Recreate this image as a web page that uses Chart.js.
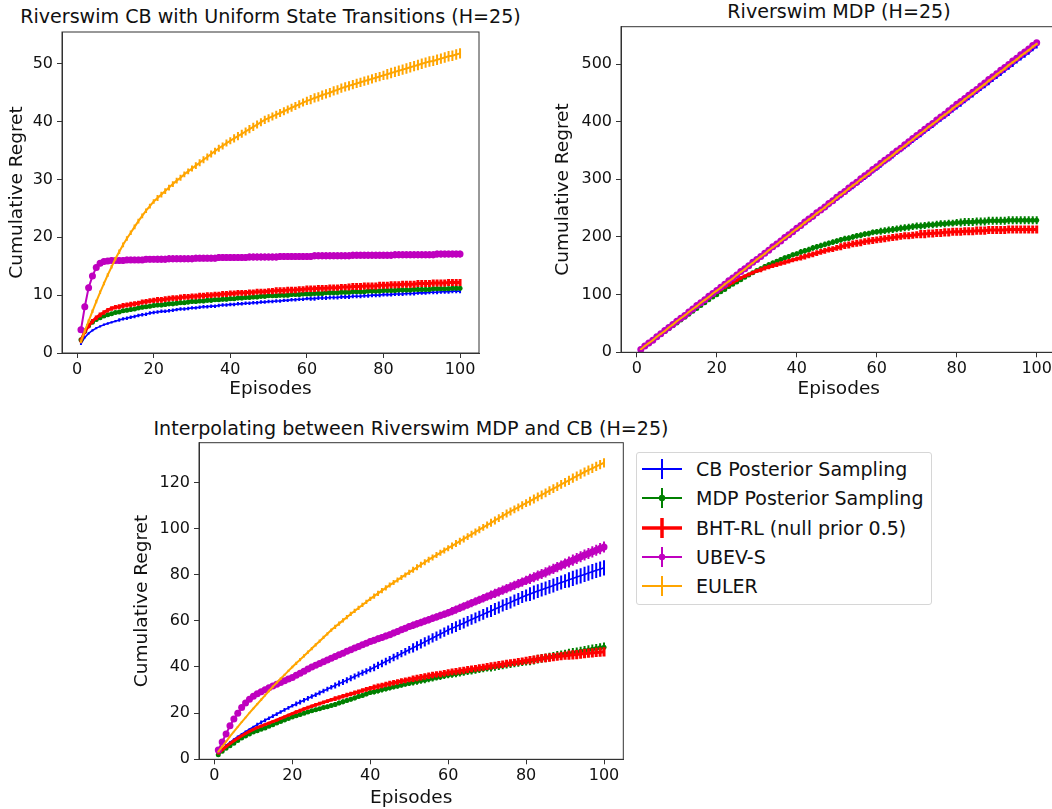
<!DOCTYPE html>
<html>
<head>
<meta charset="utf-8">
<script src="https://cdn.jsdelivr.net/npm/chart.js@4.4.1/dist/chart.umd.min.js"></script>
<style>
body { margin: 0; background: #fff; }
#fig { position: relative; width: 1052px; height: 809px; overflow: hidden; background: #fff;
       font-family: "DejaVu Sans", sans-serif; color: #111; }
canvas { position: absolute; }
.title { position: absolute; width: 600px; text-align: center; font-size: 19.1px; line-height: 19px; white-space: nowrap; }
#legend { position: absolute; left: 636px; top: 452px; width: 296px; height: 153px;
          border: 1px solid #d6d6d6; border-radius: 3px; box-sizing: border-box; background: #fff; }
.row { position: absolute; left: 0; height: 24px; width: 290px; font-size: 19px; line-height: 24px; white-space: nowrap; }
.row svg { position: absolute; left: 5px; top: 0; }
.row span { position: absolute; left: 59px; top: 0; }
</style>
</head>
<body>
<div id="fig">
  <div class="title" style="left:-29.5px;top:7px">Riverswim CB with Uniform State Transitions (H=25)</div>
  <div class="title" style="left:539px;top:2px">Riverswim MDP (H=25)</div>
  <div class="title" style="left:111px;top:419px">Interpolating between Riverswim MDP and CB (H=25)</div>
  <canvas id="uni" width="500" height="400" style="left:0;top:0"></canvas>
  <canvas id="mdp" width="530" height="400" style="left:540px;top:0"></canvas>
  <canvas id="mix" width="510" height="399" style="left:130px;top:410px"></canvas>
  <div id="legend"></div>
</div>
<script>
// episodes on the x axis
var episodes = Array.from({length: 100}, function (_, i) { return i + 1; });
var xTicks = [0, 20, 40, 60, 80, 100];
var uniTicks = [0, 10, 20, 30, 40, 50];
var mdpTicks = [0, 100, 200, 300, 400, 500];
var mixTicks = [0, 20, 40, 60, 80, 100, 120];

var names = ['CB Posterior Sampling', 'MDP Posterior Sampling', 'BHT-RL (null prior 0.5)', 'UBEV-S', 'EULER'];

// --- Riverswim CB with uniform transitions ---
var uniCB = [
 1.6, 2.7, 3.4, 3.9, 4.3, 4.6, 4.9, 5.1, 5.3, 5.5,
 5.7, 5.9, 6.0, 6.2, 6.3, 6.5, 6.6, 6.7, 6.9, 7.0,
 7.1, 7.2, 7.2, 7.3, 7.4, 7.5, 7.6, 7.6, 7.7, 7.8,
 7.8, 7.9, 8.0, 8.0, 8.1, 8.1, 8.2, 8.3, 8.3, 8.4,
 8.4, 8.5, 8.5, 8.6, 8.6, 8.7, 8.7, 8.8, 8.8, 8.9,
 8.9, 9.0, 9.0, 9.1, 9.1, 9.2, 9.2, 9.3, 9.3, 9.4,
 9.4, 9.4, 9.5, 9.5, 9.5, 9.6, 9.6, 9.6, 9.7, 9.7,
 9.7, 9.8, 9.8, 9.8, 9.9, 9.9, 10.0, 10.0, 10.0, 10.1,
 10.1, 10.1, 10.2, 10.2, 10.2, 10.3, 10.3, 10.3, 10.4, 10.4,
 10.4, 10.5, 10.5, 10.5, 10.6, 10.6, 10.6, 10.7, 10.7, 10.7];
var uniMDP = [
 2.3, 3.8, 4.7, 5.3, 5.8, 6.1, 6.4, 6.6, 6.8, 7.0,
 7.1, 7.3, 7.4, 7.5, 7.6, 7.8, 7.9, 8.0, 8.1, 8.2,
 8.3, 8.3, 8.4, 8.5, 8.5, 8.6, 8.7, 8.7, 8.8, 8.9,
 8.9, 9.0, 9.0, 9.1, 9.1, 9.2, 9.2, 9.3, 9.3, 9.4,
 9.4, 9.5, 9.5, 9.6, 9.6, 9.7, 9.7, 9.8, 9.8, 9.9,
 9.9, 9.9, 10.0, 10.0, 10.0, 10.1, 10.1, 10.1, 10.2, 10.2,
 10.2, 10.3, 10.3, 10.3, 10.4, 10.4, 10.4, 10.4, 10.5, 10.5,
 10.5, 10.6, 10.6, 10.6, 10.6, 10.7, 10.7, 10.7, 10.7, 10.8,
 10.8, 10.8, 10.8, 10.9, 10.9, 10.9, 10.9, 11.0, 11.0, 11.0,
 11.0, 11.0, 11.1, 11.1, 11.1, 11.1, 11.1, 11.2, 11.2, 11.2];
var uniBHT = [
 2.2, 3.7, 4.7, 5.5, 6.1, 6.6, 7.0, 7.4, 7.7, 7.9,
 8.0, 8.2, 8.3, 8.4, 8.5, 8.6, 8.8, 8.9, 9.0, 9.1,
 9.2, 9.2, 9.3, 9.4, 9.5, 9.5, 9.6, 9.7, 9.7, 9.8,
 9.8, 9.9, 9.9, 10.0, 10.0, 10.1, 10.1, 10.2, 10.2, 10.3,
 10.3, 10.4, 10.4, 10.4, 10.5, 10.5, 10.6, 10.6, 10.6, 10.7,
 10.7, 10.8, 10.8, 10.8, 10.9, 10.9, 10.9, 11.0, 11.0, 11.1,
 11.1, 11.1, 11.2, 11.2, 11.2, 11.3, 11.3, 11.3, 11.4, 11.4,
 11.4, 11.5, 11.5, 11.5, 11.6, 11.6, 11.6, 11.6, 11.7, 11.7,
 11.7, 11.8, 11.8, 11.8, 11.9, 11.9, 11.9, 11.9, 12.0, 12.0,
 12.0, 12.0, 12.1, 12.1, 12.1, 12.1, 12.2, 12.2, 12.2, 12.2];
var uniUBEV = [
 4.0, 8.0, 11.3, 13.3, 14.8, 15.5, 15.8, 15.9, 16.0, 16.0,
 16.0, 16.0, 16.1, 16.1, 16.1, 16.1, 16.1, 16.2, 16.2, 16.2,
 16.2, 16.2, 16.2, 16.3, 16.3, 16.3, 16.3, 16.3, 16.3, 16.3,
 16.4, 16.4, 16.4, 16.4, 16.4, 16.4, 16.5, 16.5, 16.5, 16.5,
 16.5, 16.5, 16.5, 16.5, 16.6, 16.6, 16.6, 16.6, 16.6, 16.6,
 16.6, 16.6, 16.7, 16.7, 16.7, 16.7, 16.7, 16.7, 16.7, 16.7,
 16.7, 16.8, 16.8, 16.8, 16.8, 16.8, 16.8, 16.8, 16.8, 16.8,
 16.8, 16.9, 16.9, 16.9, 16.9, 16.9, 16.9, 16.9, 16.9, 16.9,
 16.9, 16.9, 17.0, 17.0, 17.0, 17.0, 17.0, 17.0, 17.0, 17.0,
 17.0, 17.0, 17.0, 17.1, 17.1, 17.1, 17.1, 17.1, 17.1, 17.1];
var uniEULER = [
 2.0, 3.8, 5.5, 7.2, 8.9, 10.5, 12.0, 13.5, 14.9, 16.3,
 17.5, 18.7, 19.8, 20.8, 21.8, 22.8, 23.7, 24.6, 25.4, 26.2,
 26.8, 27.4, 28.0, 28.6, 29.2, 29.8, 30.3, 30.9, 31.4, 31.9,
 32.4, 32.9, 33.4, 33.9, 34.4, 34.9, 35.4, 35.8, 36.3, 36.7,
 37.1, 37.5, 37.9, 38.3, 38.7, 39.1, 39.5, 39.9, 40.3, 40.6,
 40.9, 41.2, 41.5, 41.8, 42.1, 42.4, 42.7, 43.0, 43.3, 43.6,
 43.8, 44.1, 44.3, 44.6, 44.8, 45.0, 45.3, 45.5, 45.8, 46.0,
 46.2, 46.4, 46.6, 46.8, 47.0, 47.2, 47.4, 47.6, 47.8, 48.0,
 48.2, 48.4, 48.6, 48.8, 49.0, 49.2, 49.4, 49.6, 49.8, 50.0,
 50.2, 50.4, 50.5, 50.7, 50.9, 51.1, 51.3, 51.4, 51.6, 51.8];
// error bar half heights, one value per block of 10 episodes
var uniCBErr = [0.2, 0.3, 0.3, 0.3, 0.3, 0.3, 0.35, 0.35, 0.35, 0.35];
var uniMDPErr = [0.3, 0.35, 0.4, 0.4, 0.4, 0.4, 0.4, 0.4, 0.4, 0.4];
var uniBHTErr = [0.4, 0.45, 0.5, 0.5, 0.5, 0.55, 0.55, 0.6, 0.6, 0.6];
var uniUBEVErr = [0.5, 0.55, 0.6, 0.6, 0.6, 0.6, 0.6, 0.6, 0.6, 0.6];
var uniEULERErr = [0.3, 0.4, 0.5, 0.6, 0.7, 0.7, 0.8, 0.8, 0.9, 0.9];

// --- Riverswim MDP ---
var mdpCB = [
 5, 11, 16, 21, 27, 32, 37, 42, 48, 53,
 58, 64, 69, 74, 80, 85, 90, 95, 101, 106,
 111, 117, 122, 127, 133, 138, 143, 148, 154, 159,
 164, 170, 175, 180, 186, 191, 196, 201, 207, 212,
 217, 223, 228, 233, 239, 244, 249, 254, 260, 265,
 270, 276, 281, 286, 292, 297, 302, 307, 313, 318,
 323, 329, 334, 339, 345, 350, 355, 360, 366, 371,
 376, 382, 387, 392, 398, 403, 408, 413, 419, 424,
 429, 435, 440, 445, 451, 456, 461, 466, 472, 477,
 482, 488, 493, 498, 504, 509, 514, 519, 525, 530];
var mdpMDP = [
 5, 10, 15, 20, 26, 31, 36, 41, 46, 51,
 56, 61, 66, 71, 76, 81, 86, 91, 96, 100,
 105, 109, 114, 118, 122, 126, 130, 134, 138, 142,
 145, 149, 152, 155, 158, 161, 164, 166, 169, 171,
 174, 176, 178, 181, 183, 185, 187, 189, 191, 193,
 195, 197, 198, 200, 202, 203, 205, 206, 208, 209,
 210, 211, 212, 213, 214, 215, 216, 217, 218, 219,
 219, 220, 221, 221, 222, 223, 223, 224, 224, 225,
 225, 226, 226, 226, 227, 227, 227, 228, 228, 228,
 228, 228, 229, 229, 229, 229, 229, 229, 229, 229];
var mdpBHT = [
 5, 11, 16, 21, 26, 32, 37, 42, 47, 53,
 58, 63, 68, 74, 79, 84, 89, 94, 99, 104,
 109, 113, 117, 121, 125, 129, 132, 135, 138, 141,
 143, 146, 148, 150, 152, 154, 156, 158, 160, 162,
 164, 166, 168, 170, 172, 174, 176, 178, 179, 181,
 183, 185, 186, 188, 189, 190, 192, 193, 194, 195,
 196, 197, 198, 199, 200, 201, 202, 202, 203, 204,
 205, 205, 206, 206, 207, 207, 208, 208, 209, 209,
 209, 210, 210, 210, 211, 211, 211, 212, 212, 212,
 212, 212, 213, 213, 213, 213, 213, 213, 213, 213];
var mdpUBEV = [
 5, 11, 16, 21, 27, 32, 38, 43, 48, 54,
 59, 64, 70, 75, 81, 86, 91, 97, 102, 107,
 113, 118, 124, 129, 134, 140, 145, 150, 156, 161,
 166, 172, 177, 183, 188, 193, 199, 204, 209, 215,
 220, 226, 231, 236, 242, 247, 252, 258, 263, 269,
 274, 279, 285, 290, 295, 301, 306, 311, 317, 322,
 328, 333, 338, 344, 349, 354, 360, 365, 371, 376,
 381, 387, 392, 397, 403, 408, 413, 419, 424, 430,
 435, 440, 446, 451, 456, 462, 467, 473, 478, 483,
 489, 494, 499, 505, 510, 516, 521, 526, 532, 537];
var mdpEULER = [
 5, 11, 16, 21, 27, 32, 37, 43, 48, 54,
 59, 64, 70, 75, 80, 86, 91, 96, 102, 107,
 112, 118, 123, 128, 134, 139, 144, 150, 155, 161,
 166, 171, 177, 182, 187, 193, 198, 203, 209, 214,
 219, 225, 230, 235, 241, 246, 251, 257, 262, 268,
 273, 278, 284, 289, 294, 300, 305, 310, 316, 321,
 326, 332, 337, 342, 348, 353, 358, 364, 369, 375,
 380, 385, 391, 396, 401, 407, 412, 417, 423, 428,
 433, 439, 444, 449, 455, 460, 465, 471, 476, 482,
 487, 492, 498, 503, 508, 514, 519, 524, 530, 535];
var mdpCBErr = [1, 2, 2, 2.5, 2.5, 3, 3, 3, 3, 3];
var mdpMDPErr = [1, 2, 3, 4, 5, 5, 6, 6, 7, 7];
var mdpBHTErr = [1, 2, 3, 4, 5, 6, 6, 7, 7, 7];
var mdpUBEVErr = [1, 1.5, 2, 2, 2.5, 2.5, 3, 3, 3, 3];
var mdpEULERErr = [1, 1, 1.5, 1.5, 2, 2, 2, 2, 2, 2];

// --- Interpolating between MDP and CB ---
var mixCB = [
 2.5, 4.4, 6.0, 7.3, 8.6, 9.8, 10.9, 12.0, 13.0, 14.0,
 15.0, 16.0, 16.9, 17.8, 18.7, 19.6, 20.5, 21.4, 22.3, 23.2,
 24.0, 24.8, 25.6, 26.4, 27.2, 28.0, 28.8, 29.6, 30.4, 31.2,
 32.0, 32.8, 33.5, 34.3, 35.1, 35.9, 36.7, 37.5, 38.2, 39.0,
 39.8, 40.7, 41.5, 42.4, 43.2, 44.1, 44.9, 45.8, 46.6, 47.5,
 48.3, 49.2, 50.0, 50.9, 51.7, 52.6, 53.4, 54.3, 55.1, 56.0,
 56.8, 57.5, 58.3, 59.0, 59.8, 60.6, 61.3, 62.1, 62.8, 63.6,
 64.3, 65.1, 65.8, 66.6, 67.3, 68.0, 68.8, 69.5, 70.3, 71.0,
 71.6, 72.3, 72.9, 73.5, 74.1, 74.7, 75.3, 76.0, 76.6, 77.2,
 77.8, 78.4, 79.0, 79.5, 80.1, 80.7, 81.3, 81.9, 82.4, 83.0];
var mixMDP = [
 2.0, 3.5, 4.8, 5.9, 7.0, 8.1, 9.2, 10.1, 11.0, 11.8,
 12.4, 13.0, 13.6, 14.3, 15.0, 15.7, 16.4, 17.0, 17.7, 18.3,
 18.9, 19.4, 20.0, 20.5, 21.0, 21.5, 21.9, 22.4, 22.8, 23.3,
 23.8, 24.4, 24.9, 25.5, 26.0, 26.6, 27.2, 27.7, 28.3, 28.9,
 29.3, 29.7, 30.2, 30.6, 31.0, 31.4, 31.8, 32.2, 32.6, 33.0,
 33.4, 33.7, 34.1, 34.4, 34.8, 35.1, 35.5, 35.8, 36.2, 36.5,
 36.8, 37.1, 37.4, 37.7, 38.0, 38.3, 38.6, 38.9, 39.2, 39.5,
 39.8, 40.1, 40.4, 40.7, 41.0, 41.3, 41.6, 41.8, 42.1, 42.4,
 42.7, 43.0, 43.4, 43.7, 44.0, 44.3, 44.6, 45.0, 45.3, 45.6,
 45.9, 46.2, 46.5, 46.8, 47.1, 47.4, 47.7, 48.0, 48.3, 48.6];
var mixBHT = [
 2.5, 4.1, 5.5, 6.8, 8.0, 9.1, 10.2, 11.2, 12.1, 13.0,
 13.7, 14.4, 15.0, 15.7, 16.3, 17.0, 17.7, 18.4, 19.1, 19.8,
 20.5, 21.1, 21.8, 22.4, 23.0, 23.6, 24.1, 24.7, 25.2, 25.8,
 26.3, 26.8, 27.3, 27.8, 28.3, 28.8, 29.3, 29.8, 30.3, 30.8,
 31.2, 31.6, 32.0, 32.4, 32.8, 33.2, 33.5, 33.9, 34.2, 34.6,
 34.9, 35.2, 35.6, 35.9, 36.2, 36.5, 36.8, 37.0, 37.3, 37.6,
 37.9, 38.1, 38.4, 38.6, 38.9, 39.2, 39.4, 39.7, 39.9, 40.2,
 40.5, 40.7, 41.0, 41.2, 41.5, 41.8, 42.0, 42.3, 42.5, 42.8,
 43.0, 43.2, 43.5, 43.7, 43.9, 44.1, 44.3, 44.5, 44.7, 44.9,
 45.1, 45.3, 45.4, 45.6, 45.8, 46.0, 46.1, 46.3, 46.4, 46.6];
var mixUBEV = [
 4.0, 7.5, 11.0, 14.5, 17.5, 20.0, 22.4, 24.4, 26.0, 27.3,
 28.4, 29.3, 30.1, 31.0, 31.8, 32.5, 33.3, 34.0, 34.8, 35.5,
 36.4, 37.3, 38.2, 39.1, 40.0, 40.8, 41.5, 42.3, 43.0, 43.8,
 44.5, 45.3, 46.0, 46.8, 47.5, 48.2, 48.9, 49.6, 50.3, 51.0,
 51.6, 52.2, 52.8, 53.4, 54.0, 54.7, 55.4, 56.1, 56.8, 57.5,
 58.1, 58.7, 59.3, 59.9, 60.5, 61.1, 61.7, 62.3, 62.9, 63.5,
 64.2, 64.9, 65.6, 66.3, 67.0, 67.7, 68.4, 69.1, 69.8, 70.5,
 71.2, 71.9, 72.6, 73.3, 74.0, 74.7, 75.4, 76.1, 76.8, 77.5,
 78.2, 78.9, 79.6, 80.3, 81.0, 81.8, 82.5, 83.3, 84.0, 84.8,
 85.5, 86.3, 87.0, 87.8, 88.5, 89.2, 89.9, 90.6, 91.3, 92.0];
var mixEULER = [
 3.3, 5.5, 7.7, 9.9, 12.0, 14.1, 16.1, 18.1, 20.1, 22.0,
 23.9, 25.8, 27.7, 29.6, 31.5, 33.2, 34.9, 36.6, 38.3, 40.0,
 41.6, 43.2, 44.8, 46.4, 48.0, 49.6, 51.2, 52.8, 54.4, 56.0,
 57.4, 58.8, 60.2, 61.6, 63.0, 64.3, 65.6, 66.9, 68.2, 69.5,
 70.7, 71.9, 73.1, 74.3, 75.5, 76.6, 77.7, 78.8, 79.9, 81.0,
 82.1, 83.2, 84.3, 85.4, 86.5, 87.5, 88.5, 89.5, 90.5, 91.5,
 92.5, 93.5, 94.5, 95.5, 96.5, 97.5, 98.5, 99.5, 100.5, 101.5,
 102.5, 103.5, 104.5, 105.5, 106.5, 107.4, 108.3, 109.2, 110.1, 111.0,
 111.9, 112.8, 113.7, 114.6, 115.5, 116.4, 117.3, 118.2, 119.1, 120.0,
 120.9, 121.8, 122.7, 123.6, 124.5, 125.3, 126.1, 126.9, 127.7, 128.5];
var mixCBErr = [0.5, 0.8, 1, 1.3, 1.6, 2, 2.3, 2.6, 3, 3.3];
var mixMDPErr = [0.4, 0.6, 0.8, 1, 1.2, 1.4, 1.5, 1.7, 1.9, 2];
var mixBHTErr = [0.4, 0.6, 0.8, 1, 1.2, 1.4, 1.5, 1.6, 1.8, 2];
var mixUBEVErr = [0.6, 0.8, 1, 1.2, 1.4, 1.6, 1.8, 2, 2.2, 2.4];
var mixEULERErr = [0.3, 0.5, 0.7, 0.9, 1.1, 1.3, 1.5, 1.7, 1.9, 2];

// styles
var colors = ['#0000ff', '#008000', '#ff0000', '#bf00bf', '#ffa500'];
var lineWidths = [1.6, 1.6, 3, 2, 2];
var barWidths = [2, 2, 3, 2, 2];
var dotSizes = [0, 2.5, 0, 3.5, 0];
var ink = '#111';
var spine = '#333';

Chart.defaults.font.family = '"DejaVu Sans", sans-serif';

// vertical error bars, drawn after each dataset
var errorBars = {
    id: 'errorBars',
    afterDatasetDraw: function (chart, args) {
        var ds = chart.data.datasets[args.index];
        var y = chart.scales.y;
        var ctx = chart.ctx;
        ctx.save();
        ctx.strokeStyle = ds.borderColor;
        ctx.lineWidth = ds.barWidth;
        ctx.beginPath();
        args.meta.data.forEach(function (pt, i) {
            var v = ds.data[i].y;
            var e = ds.err[Math.floor(i / 10)];
            ctx.moveTo(pt.x, y.getPixelForValue(v - e));
            ctx.lineTo(pt.x, y.getPixelForValue(v + e));
        });
        ctx.stroke();
        ctx.restore();
    }
};

// box around the plot area
var frame = {
    id: 'frame',
    afterDatasetsDraw: function (chart) {
        var a = chart.chartArea;
        var ctx = chart.ctx;
        ctx.save();
        ctx.strokeStyle = spine;
        ctx.lineWidth = 1;
        ctx.strokeRect(a.left, a.top, a.right - a.left, a.bottom - a.top);
        ctx.restore();
    }
};

function makeChart(id, series, errors, yMax, yTicks, f) {
    var datasets = series.map(function (vals, k) {
        return {
            label: names[k],
            data: episodes.map(function (e, i) { return {x: e, y: vals[i]}; }),
            err: errors[k],
            barWidth: barWidths[k],
            borderColor: colors[k],
            backgroundColor: colors[k],
            borderWidth: lineWidths[k],
            pointRadius: dotSizes[k],
            pointBorderWidth: 0,
            pointHoverRadius: 0,
            tension: 0,
            order: 5 - k
        };
    });
    return new Chart(document.getElementById(id), {
        type: 'line',
        data: {datasets: datasets},
        options: {
            responsive: false,
            animation: false,
            events: [],
            layout: {padding: {top: f.top, right: f.right, left: 0, bottom: 0}},
            plugins: {legend: {display: false}, tooltip: {enabled: false}},
            scales: {
                x: {
                    type: 'linear', min: -3.95, max: 104.95,
                    afterBuildTicks: function (s) { s.ticks = xTicks.map(function (v) { return {value: v}; }); },
                    afterFit: function (s) { s.height = f.xHeight; },
                    ticks: {font: {size: 16}, color: ink, padding: 2, maxRotation: 0},
                    grid: {drawOnChartArea: false, tickLength: 5, color: spine},
                    border: {color: spine},
                    title: {display: true, text: 'Episodes', font: {size: 18.5}, color: ink, padding: {top: 0, bottom: 0}}
                },
                y: {
                    min: 0, max: yMax,
                    afterBuildTicks: function (s) { s.ticks = yTicks.map(function (v) { return {value: v}; }); },
                    afterFit: function (s) { s.width = f.yWidth; },
                    ticks: {font: {size: 16}, color: ink, padding: 4},
                    grid: {drawOnChartArea: false, tickLength: 5, color: spine},
                    border: {color: spine},
                    title: {display: true, text: 'Cumulative Regret', font: {size: 18.5}, color: ink, padding: {top: f.yTitlePad, bottom: 0}}
                }
            }
        },
        plugins: [errorBars, frame]
    });
}

makeChart('uni', [uniCB, uniMDP, uniBHT, uniUBEV, uniEULER],
    [uniCBErr, uniMDPErr, uniBHTErr, uniUBEVErr, uniEULERErr], 55.5, uniTicks,
    {top: 32, right: 21, xHeight: 47, yWidth: 62, yTitlePad: 6});
makeChart('mdp', [mdpCB, mdpMDP, mdpBHT, mdpUBEV, mdpEULER],
    [mdpCBErr, mdpMDPErr, mdpBHTErr, mdpUBEVErr, mdpEULERErr], 564.7, mdpTicks,
    {top: 26.7, right: 13.5, xHeight: 47.7, yWidth: 81, yTitlePad: 12});
makeChart('mix', [mixCB, mixMDP, mixBHT, mixUBEV, mixEULER],
    [mixCBErr, mixMDPErr, mixBHTErr, mixUBEVErr, mixEULERErr], 137.2, mixTicks,
    {top: 32.7, right: 16.7, xHeight: 49.7, yWidth: 69, yTitlePad: 1.5});

// legend (lives beside the third chart)
var rowTops = [4, 33, 62.5, 92, 121];
var legend = document.getElementById('legend');
names.forEach(function (name, k) {
    var row = document.createElement('div');
    row.className = 'row';
    row.style.top = rowTops[k] + 'px';
    var w = k === 2 ? 3.5 : 2;
    var svg = '<svg width="42" height="24">' +
        '<line x1="0" y1="12" x2="40" y2="12" stroke="' + colors[k] + '" stroke-width="' + w + '"/>' +
        '<line x1="20" y1="2" x2="20" y2="22" stroke="' + colors[k] + '" stroke-width="' + w + '"/>' +
        (dotSizes[k] ? '<circle cx="20" cy="12" r="3.2" fill="' + colors[k] + '"/>' : '') +
        '</svg>';
    row.innerHTML = svg + '<span>' + name + '</span>';
    legend.appendChild(row);
});
</script>
</body>
</html>
